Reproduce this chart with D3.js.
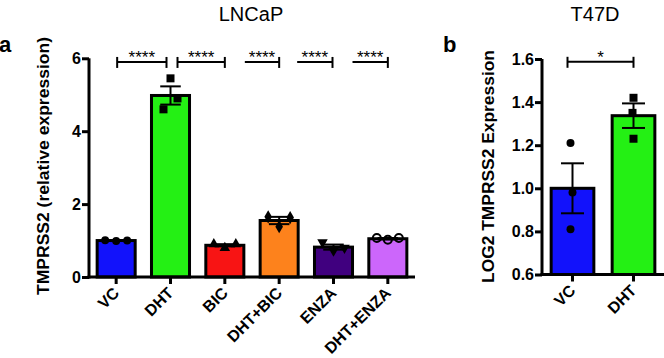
<!DOCTYPE html>
<html><head><meta charset="utf-8">
<script src="https://cdn.jsdelivr.net/npm/d3@7"></script>
<style>body{margin:0;background:#fff}svg{display:block}</style>
</head><body><svg id="c" width="664" height="358"></svg>
<script>
// ---- Data: panel a (LNCaP)
const categoriesA = ["VC","DHT","BIC","DHT+BIC","ENZA","DHT+ENZA"];
const meansA = [1.0, 4.98, 0.87, 1.55, 0.82, 1.05];
const semA = [0.01, 0.25, 0.03, 0.10, 0.07, 0.02];
const repsA = [[1.01,0.99,1.0],[4.6,5.45,4.9],[0.9,0.8,0.9],[1.65,1.38,1.63],[0.95,0.72,0.8],[1.07,1.02,1.07]];
const colorsA = ["#1212fb","#24f014","#f81414","#fd821c","#40007f","#cc66fb"];
const shapesA = ["circle","square","triangle","diamond","triangleDown","openCircle"];
const ticksA = [0,2,4,6];
const compsA = [
  {from:"VC",to:"DHT",label:"****"},
  {from:"DHT",to:"BIC",label:"****"},
  {from:"BIC",to:"DHT+BIC",label:"****"},
  {from:"DHT+BIC",to:"ENZA",label:"****"},
  {from:"ENZA",to:"DHT+ENZA",label:"****"}
];
const bracketLevelA = 5.9;
// ---- Data: panel b (T47D)
const categoriesB = ["VC","DHT"];
const meansB = [1.0, 1.337];
const semB = [0.116, 0.057];
const repsB = [[1.21,0.98,0.81],[1.42,1.35,1.23]];
const colorsB = ["#1212fb","#24f014"];
const shapesB = ["circle","square"];
const ticksB = [0.6,0.8,1.0,1.2,1.4,1.6];
const compsB = [{from:"VC",to:"DHT",label:"*"}];
const bracketLevelB = 1.587;

// ---- Layout constants (not data)
const bracketLayoutA = [{s:1,e:-4,lt:true},{s:7,e:0,lt:true},{s:20,e:0,lt:false},{s:18,e:-1,lt:false},{s:19,e:0,lt:false}];
const bracketLayoutB = [{s:-5,e:0,lt:true}];
const jitterA = [[-11,0,11],[-7,0,7],[-11,0,11],[-11,0,11],[-11,0,11],[-11,0,11]];
const jitterB = [[-2,0,-2],[0,-1,0]];

const svg = d3.select("#c");
const FONT = "Arial, 'Liberation Sans', sans-serif";

function symbolPath(shape){
  switch(shape){
    case "square": return d3.symbol(d3.symbolSquare, 64)();
    case "triangle": return d3.symbol(d3.symbolTriangle, 48)();
    case "diamond": return d3.symbol(d3.symbolDiamond, 50)();
    case "triangleDown": return d3.symbol(d3.symbolTriangle, 48)();
    default: return d3.symbol(d3.symbolCircle, 50)();
  }
}

function panel(cfg){
  const g = svg.append("g");
  const x = d3.scaleBand().domain(cfg.cats).range(cfg.xr).paddingInner(0.3).paddingOuter(0.15);
  const y = d3.scaleLinear().domain(cfg.yd).range(cfg.yr);
  const y0 = y(cfg.yd[0]);
  // bars
  g.selectAll("rect.bar").data(cfg.cats).join("rect")
    .attr("x", d=>x(d)).attr("width", x.bandwidth())
    .attr("y", (d,i)=>y(cfg.means[i])).attr("height", (d,i)=>y0-y(cfg.means[i]))
    .attr("fill", (d,i)=>cfg.colors[i]).attr("stroke","#000").attr("stroke-width",3);
  // error bars
  const cap = x.bandwidth()*0.27;
  cfg.cats.forEach((c,i)=>{
    const cx = x(c)+x.bandwidth()/2;
    const hi = y(cfg.means[i]+cfg.sem[i]), lo = y(cfg.means[i]-cfg.sem[i]);
    g.append("line").attr("x1",cx).attr("x2",cx).attr("y1",hi).attr("y2",lo).attr("stroke","#000").attr("stroke-width",2);
    [hi,lo].forEach(yy=>g.append("line").attr("x1",cx-cap).attr("x2",cx+cap).attr("y1",yy).attr("y2",yy).attr("stroke","#000").attr("stroke-width",2));
  });
  // points
  cfg.cats.forEach((c,i)=>{
    const cx = x(c)+x.bandwidth()/2;
    cfg.reps[i].forEach((v,j)=>{
      const sh = cfg.shapes[i];
      const p = g.append("path").attr("d", symbolPath(sh))
        .attr("transform", `translate(${cx+cfg.jitter[i][j]},${y(v)})` + (sh==="triangleDown"?" rotate(180)":""));
      if(sh==="openCircle") p.attr("fill","none").attr("stroke","#000").attr("stroke-width",2);
      else p.attr("fill","#000");
    });
  });
  // y axis
  const ya = d3.axisLeft(y).tickValues(cfg.ticks).tickSize(7).tickPadding(1).tickFormat(cfg.fmt);
  const yg = g.append("g").attr("transform",`translate(${cfg.xr[0]},0)`).call(ya);
  yg.attr("font-family",null).attr("font-size",null);
  yg.select(".domain").attr("d",`M0,${cfg.yr[1]}V${y0+1.5}`).attr("stroke-width",3);
  yg.selectAll(".tick line").attr("stroke-width",3);
  yg.selectAll(".tick text").style("font-family",FONT).style("font-weight","bold").style("font-size","16px").attr("fill","#000");
  // x axis
  const xa = d3.axisBottom(x).tickSize(7).tickSizeOuter(0);
  const xg = g.append("g").attr("transform",`translate(0,${y0})`).call(xa);
  xg.attr("font-family",null).attr("font-size",null);
  xg.select(".domain").attr("d",`M${cfg.xr[0]-1.5},0H${cfg.xr[1]}`).attr("stroke-width",3);
  xg.selectAll(".tick line").attr("stroke-width",3);
  xg.selectAll(".tick text").style("font-family",FONT).style("font-weight","bold").style("font-size","16px").attr("fill","#000")
    .attr("text-anchor","end").attr("dy",null).attr("y",null)
    .attr("transform","translate(4,17) rotate(-45)");
  // y title
  g.append("text").attr("transform",`translate(${cfg.titleX},${cfg.titleY}) rotate(-90)`)
    .attr("text-anchor","middle").style("font-family",FONT).style("font-weight","bold").style("font-size","17px")
    .attr("textLength",cfg.titleLen).attr("lengthAdjust","spacingAndGlyphs").text(cfg.title);
  // brackets
  const by = y(cfg.bLevel);
  cfg.comps.forEach((cmp,i)=>{
    const L = cfg.bLayout[i];
    const x1 = x(cmp.from)+x.bandwidth()/2+L.s, x2 = x(cmp.to)+x.bandwidth()/2+L.e;
    g.append("line").attr("x1",x1).attr("x2",x2).attr("y1",by).attr("y2",by).attr("stroke","#000").attr("stroke-width",2);
    g.append("line").attr("x1",x2).attr("x2",x2).attr("y1",by-5).attr("y2",by+6).attr("stroke","#000").attr("stroke-width",2);
    if(L.lt) g.append("line").attr("x1",x1).attr("x2",x1).attr("y1",by-5).attr("y2",by+6).attr("stroke","#000").attr("stroke-width",2);
    g.append("text").attr("x",(x1+x2)/2).attr("y",by+1).attr("text-anchor","middle")
      .style("font-family",FONT).style("font-size","17px").text(cmp.label);
  });
  // chart title & panel letter
  g.append("text").attr("x",cfg.headX).attr("y",21).attr("text-anchor","middle")
    .style("font-family","Arial, 'Liberation Sans', sans-serif").style("font-size","20px").text(cfg.head);
  g.append("text").attr("x",cfg.letterX).attr("y",52)
    .style("font-family",FONT).style("font-weight","bold").style("font-size","22px").text(cfg.letter);
}

panel({cats:categoriesA, means:meansA, sem:semA, reps:repsA, colors:colorsA, shapes:shapesA,
  jitter:jitterA, ticks:ticksA, fmt:d3.format("d"), xr:[89,415], yd:[0,6], yr:[277,58.3],
  comps:compsA, bLevel:bracketLevelA, bLayout:bracketLayoutA,
  title:"TMPRSS2 (relative expression)", titleX:49, titleY:166, titleLen:258,
  head:"LNCaP", headX:251, letter:"a", letterX:-1});
panel({cats:categoriesB, means:meansB, sem:semB, reps:repsB, colors:colorsB, shapes:shapesB,
  jitter:jitterB, ticks:ticksB, fmt:d3.format(".1f"), xr:[542,664], yd:[0.6,1.6], yr:[274.5,59],
  comps:compsB, bLevel:bracketLevelB, bLayout:bracketLayoutB,
  title:"LOG2 TMPRSS2 Expression", titleX:494, titleY:166.5, titleLen:233,
  head:"T47D", headX:595, letter:"b", letterX:443});
</script></body></html>
